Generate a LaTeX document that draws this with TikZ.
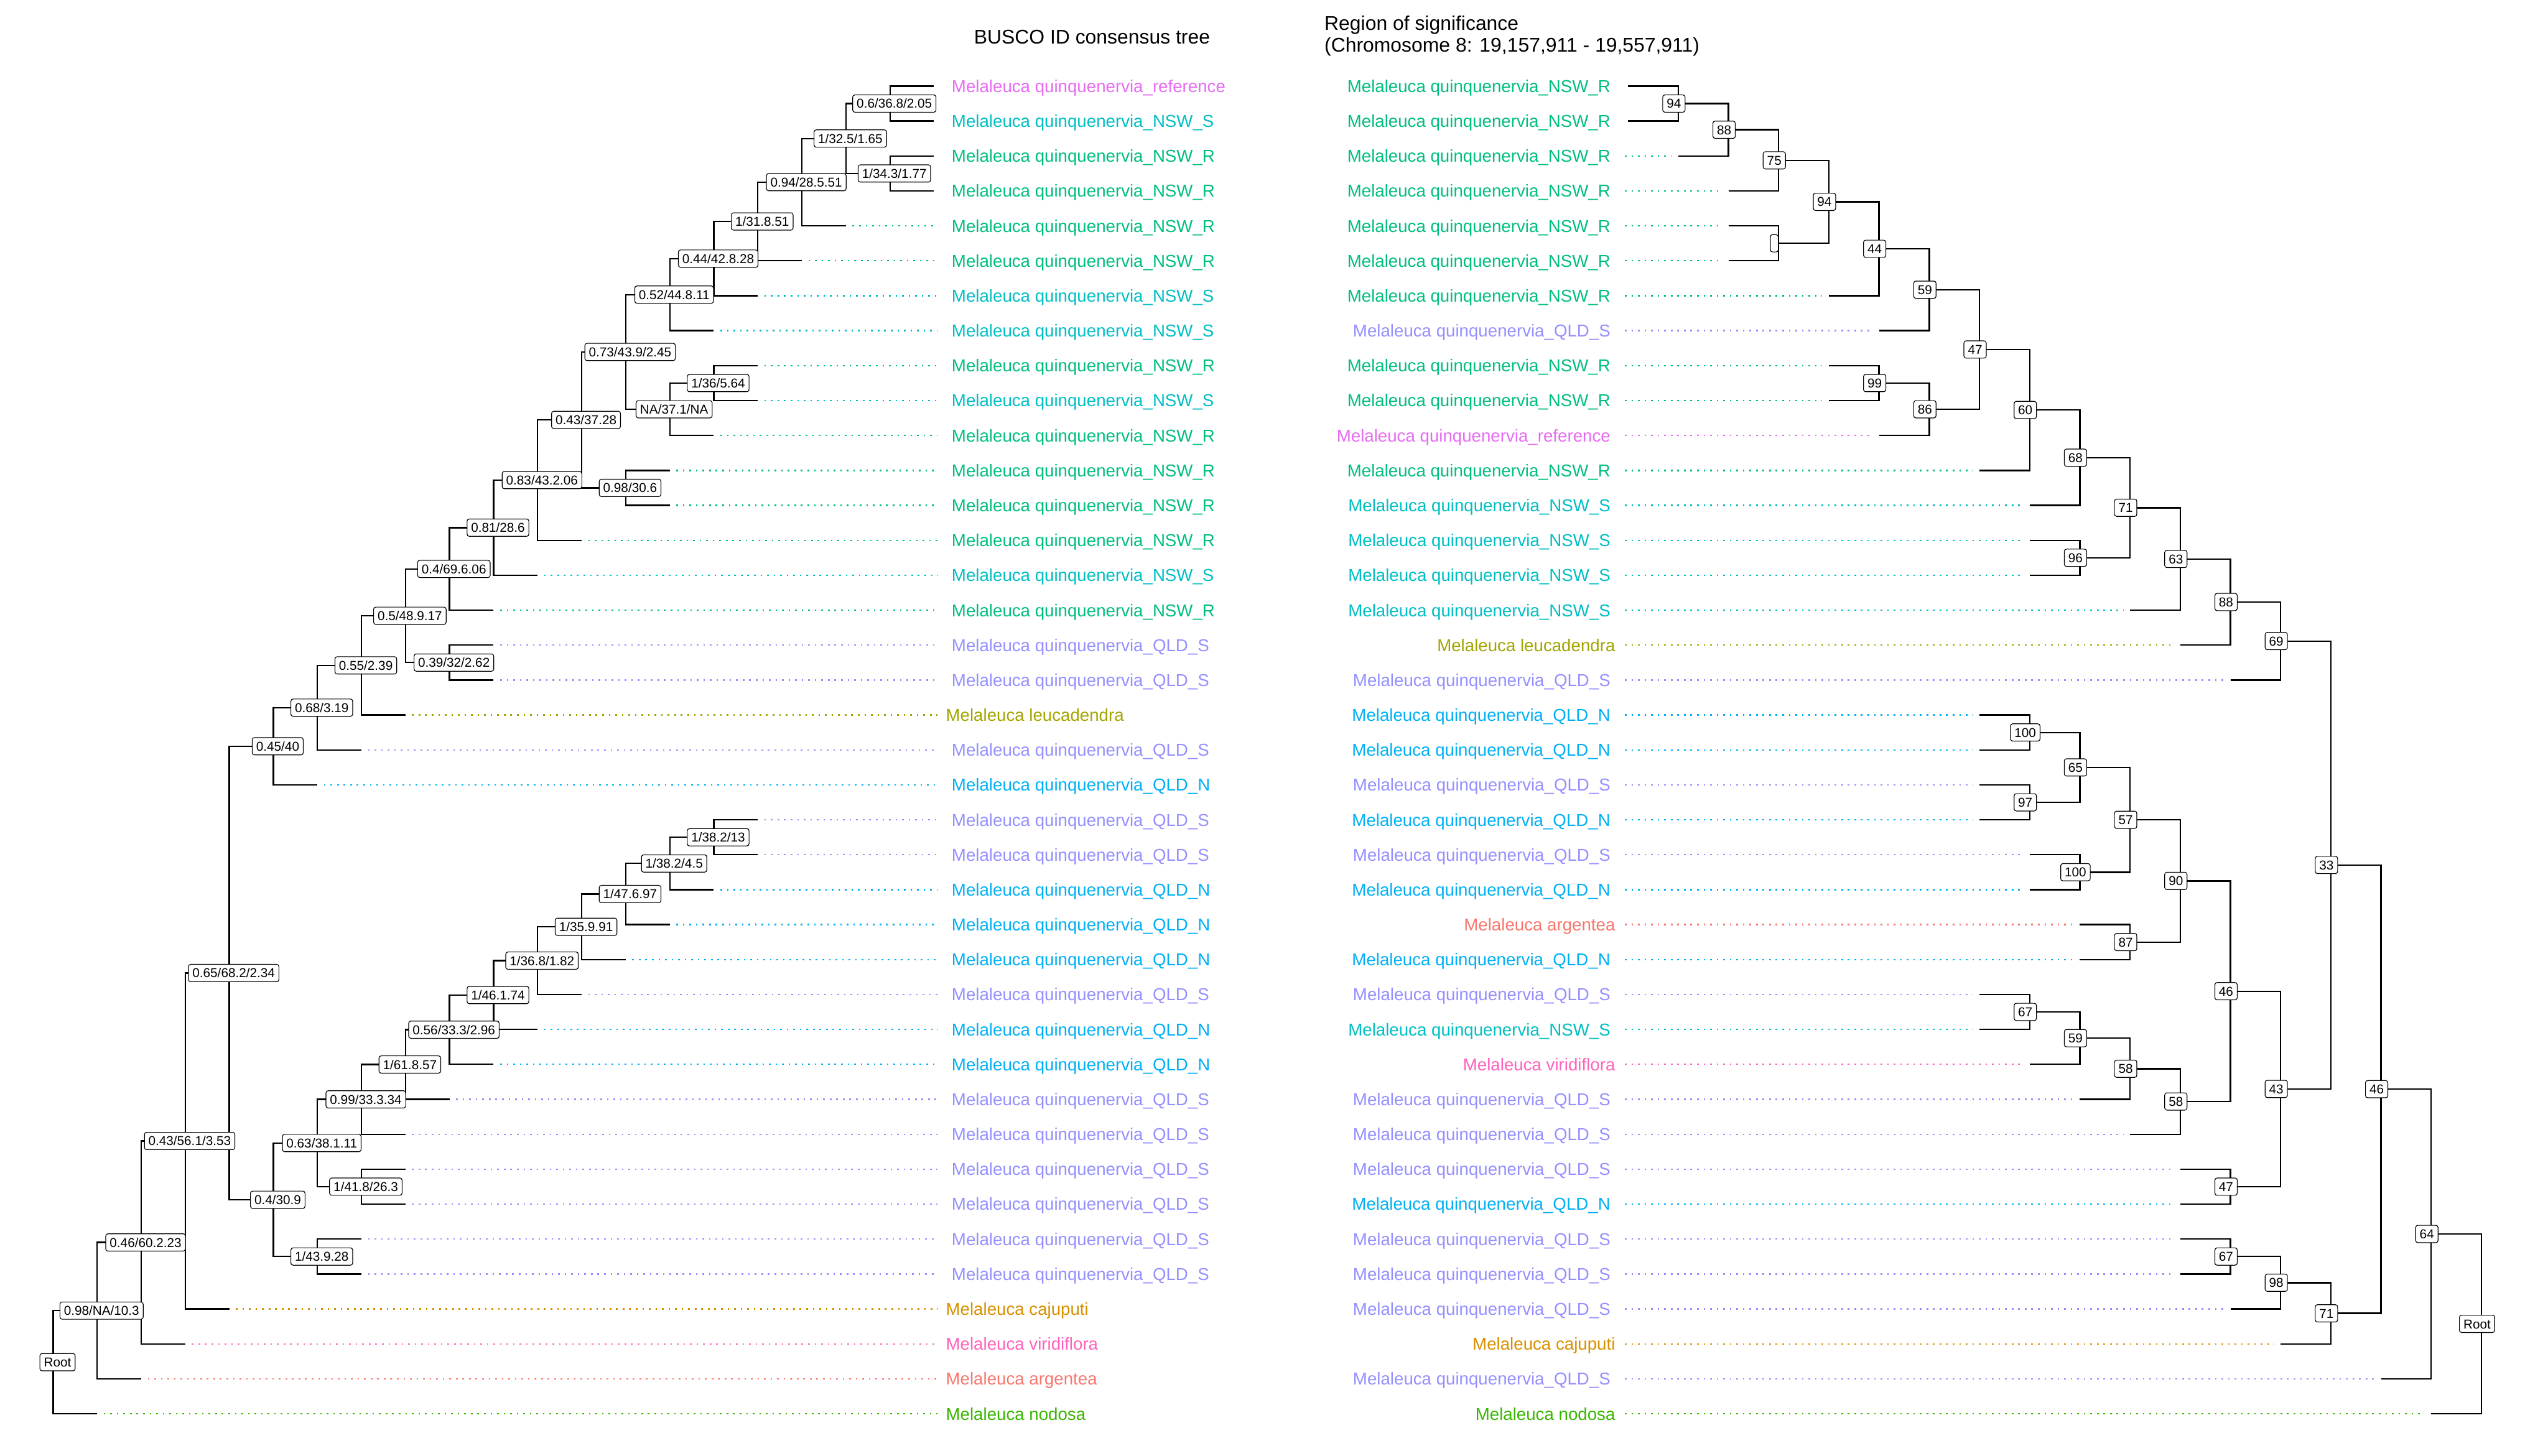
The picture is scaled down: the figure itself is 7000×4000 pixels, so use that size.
\documentclass[tikz,border=0pt]{standalone}
\usepackage{fontspec}
\setmainfont{Liberation Sans}
\definecolor{cArg}{HTML}{F8766D}
\definecolor{cCaj}{HTML}{D89000}
\definecolor{cLeu}{HTML}{A3A500}
\definecolor{cNod}{HTML}{39B600}
\definecolor{cNR}{HTML}{00BF7D}
\definecolor{cNS}{HTML}{00BFC4}
\definecolor{cQN}{HTML}{00B0F6}
\definecolor{cQS}{HTML}{9590FF}
\definecolor{cRef}{HTML}{E76BF3}
\definecolor{cVir}{HTML}{FF62BC}
\newcommand{\qNR}{quinquenervia\_NSW\_R}
\newcommand{\qNS}{quinquenervia\_NSW\_S}
\newcommand{\qQN}{quinquenervia\_QLD\_N}
\newcommand{\qQS}{quinquenervia\_QLD\_S}
\newcommand{\qRef}{quinquenervia\_reference}
\begin{document}
\begin{tikzpicture}[x=0.01cm, y=-0.01cm,
  branch/.style={line width=0.04cm, draw=black},
  dotline/.style={line width=0.04cm, dash pattern=on 0.045cm off 0.135cm},
  nlab/.style={draw=black, line width=0.02cm, fill=white, rounded corners=0.06cm,
    inner xsep=0.11cm, inner ysep=0.11cm, text height=0.255cm, text depth=0pt,
    font=\fontsize{10.07pt}{12pt}\selectfont},
  tipl/.style={inner sep=0pt, text height=0.34cm, text depth=0pt,
    font=\fontsize{13.45pt}{16pt}\selectfont, anchor=west},
  tipr/.style={inner sep=0pt, text height=0.34cm, text depth=0pt,
    font=\fontsize{13.45pt}{16pt}\selectfont, anchor=east},
  ttl/.style={font=\fontsize{15.5pt}{18pt}\selectfont, inner sep=0pt}
]
\fill[white] (0,0) rectangle (7000,4000);
\useasboundingbox (0,0) rectangle (7000,4000);

% titles
\node[ttl, anchor=base] (titleL) at (3000,120) {BUSCO ID consensus tree};
\node[ttl, anchor=base west] (titleR1) at (3638,83) {Region of significance};
\node[ttl, anchor=base west] (titleR2) at (3638,142) {(Chromosome 8: 19,157,911 - 19,557,911)};

\coordinate (dotL) at (2576,0);
\coordinate (dotR) at (4464,0);

% ---------------- LEFT TREE ----------------
\coordinate (Lt0) at (2566,236.6);
\coordinate (Lt1) at (2566,332.6);
\coordinate (Lt2) at (2566,428.6);
\coordinate (Lt3) at (2566,524.6);
\coordinate (Lt4) at (2324,620.6);
\coordinate (Lt5) at (2203,716.6);
\coordinate (Lt6) at (2082,812.6);
\coordinate (Lt7) at (1961,908.6);
\coordinate (Lt8) at (2082,1004.6);
\coordinate (Lt9) at (2082,1100.6);
\coordinate (Lt10) at (1961,1196.6);
\coordinate (Lt11) at (1840,1292.6);
\coordinate (Lt12) at (1840,1388.6);
\coordinate (Lt13) at (1598,1484.6);
\coordinate (Lt14) at (1477,1580.6);
\coordinate (Lt15) at (1356,1676.6);
\coordinate (Lt16) at (1356,1772.6);
\coordinate (Lt17) at (1356,1868.6);
\coordinate (Lt18) at (1114,1964.6);
\coordinate (Lt19) at (993,2060.6);
\coordinate (Lt20) at (872,2156.6);
\coordinate (Lt21) at (2082,2252.6);
\coordinate (Lt22) at (2082,2348.6);
\coordinate (Lt23) at (1961,2444.6);
\coordinate (Lt24) at (1840,2540.6);
\coordinate (Lt25) at (1719,2636.6);
\coordinate (Lt26) at (1598,2732.6);
\coordinate (Lt27) at (1477,2828.6);
\coordinate (Lt28) at (1356,2924.6);
\coordinate (Lt29) at (1235,3020.6);
\coordinate (Lt30) at (1114,3116.6);
\coordinate (Lt31) at (1114,3212.6);
\coordinate (Lt32) at (1114,3308.6);
\coordinate (Lt33) at (993,3404.6);
\coordinate (Lt34) at (993,3500.6);
\coordinate (Lt35) at (630,3596.6);
\coordinate (Lt36) at (509,3692.6);
\coordinate (Lt37) at (388,3788.6);
\coordinate (Lt38) at (267,3884.6);

\coordinate (LA) at (2445,284.6);
\coordinate (LD) at (2445,476.6);
\coordinate (LB) at (2324,380.6);
\coordinate (LC) at (2203,500.6);
\coordinate (LE) at (2082,608.6);
\coordinate (LF) at (1961,710.6);
\coordinate (LG) at (1840,809.6);
\coordinate (LN) at (1961,1052.6);
\coordinate (LL) at (1840,1124.6);
\coordinate (LK) at (1719,967.1);
\coordinate (LQ) at (1719,1340.6);
\coordinate (LM) at (1598,1153.85);
\coordinate (LR) at (1477,1319.2);
\coordinate (LS) at (1356,1449.9);
\coordinate (LT) at (1235,1563.25);
\coordinate (LU) at (1235,1820.6);
\coordinate (LV) at (1114,1691.9);
\coordinate (LW) at (993,1828.25);
\coordinate (LX) at (872,1944.4);
\coordinate (LY) at (751,2050.5);
\coordinate (Ln1) at (1961,2300.6);
\coordinate (Ln2) at (1840,2372.6);
\coordinate (Ln3) at (1719,2456.6);
\coordinate (Ln4) at (1598,2546.6);
\coordinate (Ln5) at (1477,2639.6);
\coordinate (Ln6) at (1356,2734.1);
\coordinate (Ln7) at (1235,2829.35);
\coordinate (Ln8) at (1114,2925);
\coordinate (Ln9) at (993,3020.8);
\coordinate (LAE) at (993,3260.6);
\coordinate (LAB) at (872,3140.7);
\coordinate (LAC) at (872,3452.6);
\coordinate (LAA) at (751,3296.65);
\coordinate (LZ4) at (630,2673.6);
\coordinate (LZ3) at (509,3135.1);
\coordinate (LZ2) at (388,3413.85);
\coordinate (LZ1) at (267,3601.2);
\coordinate (LRoot) at (146,3742.9);

\foreach \p/\c in {LA/Lt0,LA/Lt1,LD/Lt2,LD/Lt3,LB/LA,LB/LD,LC/LB,LC/Lt4,LE/LC,LE/Lt5,
  LF/LE,LF/Lt6,LG/LF,LG/Lt7,LN/Lt8,LN/Lt9,LL/LN,LL/Lt10,LK/LG,LK/LL,LQ/Lt11,LQ/Lt12,
  LM/LK,LM/LQ,LR/LM,LR/Lt13,LS/LR,LS/Lt14,LT/LS,LT/Lt15,LU/Lt16,LU/Lt17,LV/LT,LV/LU,
  LW/LV,LW/Lt18,LX/LW,LX/Lt19,LY/LX,LY/Lt20,Ln1/Lt21,Ln1/Lt22,Ln2/Ln1,Ln2/Lt23,
  Ln3/Ln2,Ln3/Lt24,Ln4/Ln3,Ln4/Lt25,Ln5/Ln4,Ln5/Lt26,Ln6/Ln5,Ln6/Lt27,Ln7/Ln6,Ln7/Lt28,
  Ln8/Ln7,Ln8/Lt29,Ln9/Ln8,Ln9/Lt30,LAE/Lt31,LAE/Lt32,LAB/Ln9,LAB/LAE,LAC/Lt33,LAC/Lt34,
  LAA/LAB,LAA/LAC,LZ4/LY,LZ4/LAA,LZ3/LZ4,LZ3/Lt35,LZ2/LZ3,LZ2/Lt36,LZ1/LZ2,LZ1/Lt37,
  LRoot/LZ1,LRoot/Lt38}
  \draw[branch] (\c) -| (\p);

\foreach \i/\c in {4/cNR,5/cNR,6/cNS,7/cNS,8/cNR,9/cNS,10/cNR,11/cNR,12/cNR,13/cNR,
  14/cNS,15/cNR,16/cQS,17/cQS,18/cLeu,19/cQS,20/cQN,21/cQS,22/cQS,23/cQN,24/cQN,25/cQN,
  26/cQS,27/cQN,28/cQN,29/cQS,30/cQS,31/cQS,32/cQS,33/cQS,34/cQS,35/cCaj,36/cVir,
  37/cArg,38/cNod}
  \draw[dotline, draw=\c] ([xshift=0.18cm]Lt\i) -- (Lt\i -| dotL);

\foreach \i/\c/\t/\x in {0/cRef/\qRef/2614,1/cNS/\qNS/2614,2/cNR/\qNR/2614,3/cNR/\qNR/2614,
  4/cNR/\qNR/2614,5/cNR/\qNR/2614,6/cNS/\qNS/2614,7/cNS/\qNS/2614,8/cNR/\qNR/2614,
  9/cNS/\qNS/2614,10/cNR/\qNR/2614,11/cNR/\qNR/2614,12/cNR/\qNR/2614,13/cNR/\qNR/2614,
  14/cNS/\qNS/2614,15/cNR/\qNR/2614,16/cQS/\qQS/2614,17/cQS/\qQS/2614,
  18/cLeu/leucadendra/2598,19/cQS/\qQS/2614,20/cQN/\qQN/2614,21/cQS/\qQS/2614,
  22/cQS/\qQS/2614,23/cQN/\qQN/2614,24/cQN/\qQN/2614,25/cQN/\qQN/2614,26/cQS/\qQS/2614,
  27/cQN/\qQN/2614,28/cQN/\qQN/2614,29/cQS/\qQS/2614,30/cQS/\qQS/2614,31/cQS/\qQS/2614,
  32/cQS/\qQS/2614,33/cQS/\qQS/2614,34/cQS/\qQS/2614,35/cCaj/cajuputi/2598,
  36/cVir/viridiflora/2598,37/cArg/argentea/2598,38/cNod/nodosa/2598}
  \node[tipl, text=\c] (Ll\i) at (\x,{236.6+96*\i}) {Melaleuca \t};

\node[nlab] (LAl) at ([xshift=0.12cm]LA) {0.6/36.8/2.05};
\node[nlab] (LDl) at ([xshift=0.12cm]LD) {1/34.3/1.77};
\node[nlab] (LBl) at ([xshift=0.12cm]LB) {1/32.5/1.65};
\node[nlab] (LCl) at ([xshift=0.12cm]LC) {0.94/28.5.51};
\node[nlab] (LEl) at ([xshift=0.12cm]LE) {1/31.8.51};
\node[nlab] (LFl) at ([xshift=0.12cm]LF) {0.44/42.8.28};
\node[nlab] (LGl) at ([xshift=0.12cm]LG) {0.52/44.8.11};
\node[nlab] (LNl) at ([xshift=0.12cm]LN) {1/36/5.64};
\node[nlab] (LLl) at ([xshift=0.12cm]LL) {NA/37.1/NA};
\node[nlab] (LKl) at ([xshift=0.12cm]LK) {0.73/43.9/2.45};
\node[nlab] (LQl) at ([xshift=0.12cm]LQ) {0.98/30.6};
\node[nlab] (LMl) at ([xshift=0.12cm]LM) {0.43/37.28};
\node[nlab] (LRl) at ([xshift=0.12cm]LR) {0.83/43.2.06};
\node[nlab] (LSl) at ([xshift=0.12cm]LS) {0.81/28.6};
\node[nlab] (LTl) at ([xshift=0.12cm]LT) {0.4/69.6.06};
\node[nlab] (LUl) at ([xshift=0.12cm]LU) {0.39/32/2.62};
\node[nlab] (LVl) at ([xshift=0.12cm]LV) {0.5/48.9.17};
\node[nlab] (LWl) at ([xshift=0.12cm]LW) {0.55/2.39};
\node[nlab] (LXl) at ([xshift=0.12cm]LX) {0.68/3.19};
\node[nlab] (LYl) at ([xshift=0.12cm]LY) {0.45/40};
\node[nlab] (Ln1l) at ([xshift=0.12cm]Ln1) {1/38.2/13};
\node[nlab] (Ln2l) at ([xshift=0.12cm]Ln2) {1/38.2/4.5};
\node[nlab] (Ln3l) at ([xshift=0.12cm]Ln3) {1/47.6.97};
\node[nlab] (Ln4l) at ([xshift=0.12cm]Ln4) {1/35.9.91};
\node[nlab] (Ln5l) at ([xshift=0.12cm]Ln5) {1/36.8/1.82};
\node[nlab] (Ln6l) at ([xshift=0.12cm]Ln6) {1/46.1.74};
\node[nlab] (Ln7l) at ([xshift=0.12cm]Ln7) {0.56/33.3/2.96};
\node[nlab] (Ln8l) at ([xshift=0.12cm]Ln8) {1/61.8.57};
\node[nlab] (Ln9l) at ([xshift=0.12cm]Ln9) {0.99/33.3.34};
\node[nlab] (LAEl) at ([xshift=0.12cm]LAE) {1/41.8/26.3};
\node[nlab] (LABl) at ([xshift=0.12cm]LAB) {0.63/38.1.11};
\node[nlab] (LACl) at ([xshift=0.12cm]LAC) {1/43.9.28};
\node[nlab] (LAAl) at ([xshift=0.12cm]LAA) {0.4/30.9};
\node[nlab] (LZ4l) at ([xshift=0.12cm]LZ4) {0.65/68.2/2.34};
\node[nlab] (LZ3l) at ([xshift=0.12cm]LZ3) {0.43/56.1/3.53};
\node[nlab] (LZ2l) at ([xshift=0.12cm]LZ2) {0.46/60.2.23};
\node[nlab] (LZ1l) at ([xshift=0.12cm]LZ1) {0.98/NA/10.3};
\node[nlab] (LRootl) at ([xshift=0.12cm]LRoot) {Root};

% ---------------- RIGHT TREE ----------------
\coordinate (Rt0) at (4472.7,236.6);
\coordinate (Rt1) at (4472.7,332.6);
\coordinate (Rt2) at (4610.6,428.6);
\coordinate (Rt3) at (4748.5,524.6);
\coordinate (Rt4) at (4748.5,620.6);
\coordinate (Rt5) at (4748.5,716.6);
\coordinate (Rt6) at (5024.3,812.6);
\coordinate (Rt7) at (5162.2,908.6);
\coordinate (Rt8) at (5024.3,1004.6);
\coordinate (Rt9) at (5024.3,1100.6);
\coordinate (Rt10) at (5162.2,1196.6);
\coordinate (Rt11) at (5438,1292.6);
\coordinate (Rt12) at (5575.9,1388.6);
\coordinate (Rt13) at (5575.9,1484.6);
\coordinate (Rt14) at (5575.9,1580.6);
\coordinate (Rt15) at (5851.7,1676.6);
\coordinate (Rt16) at (5989.6,1772.6);
\coordinate (Rt17) at (6127.5,1868.6);
\coordinate (Rt18) at (5438,1964.6);
\coordinate (Rt19) at (5438,2060.6);
\coordinate (Rt20) at (5438,2156.6);
\coordinate (Rt21) at (5438,2252.6);
\coordinate (Rt22) at (5575.9,2348.6);
\coordinate (Rt23) at (5575.9,2444.6);
\coordinate (Rt24) at (5713.8,2540.6);
\coordinate (Rt25) at (5713.8,2636.6);
\coordinate (Rt26) at (5438,2732.6);
\coordinate (Rt27) at (5438,2828.6);
\coordinate (Rt28) at (5575.9,2924.6);
\coordinate (Rt29) at (5713.8,3020.6);
\coordinate (Rt30) at (5851.7,3116.6);
\coordinate (Rt31) at (5989.6,3212.6);
\coordinate (Rt32) at (5989.6,3308.6);
\coordinate (Rt33) at (5989.6,3404.6);
\coordinate (Rt34) at (5989.6,3500.6);
\coordinate (Rt35) at (6127.5,3596.6);
\coordinate (Rt36) at (6265.4,3692.6);
\coordinate (Rt37) at (6541.2,3788.6);
\coordinate (Rt38) at (6679.1,3884.6);

\coordinate (R94a) at (4610.6,284.6);
\coordinate (R88a) at (4748.5,356.6);
\coordinate (R75) at (4886.4,440.6);
\coordinate (Rbl) at (4886.4,668.6);
\coordinate (R94b) at (5024.3,554.6);
\coordinate (R44) at (5162.2,683.6);
\coordinate (R59a) at (5300.1,796.1);
\coordinate (R99) at (5162.2,1052.6);
\coordinate (R86) at (5300.1,1124.6);
\coordinate (R47a) at (5438,960.35);
\coordinate (R60) at (5575.9,1126.5);
\coordinate (R68) at (5713.8,1257.55);
\coordinate (R96) at (5713.8,1532.6);
\coordinate (R71a) at (5851.7,1395.1);
\coordinate (R63) at (5989.6,1535.85);
\coordinate (R88b) at (6127.5,1654.2);
\coordinate (R69) at (6265.4,1761.4);
\coordinate (R100a) at (5575.9,2012.6);
\coordinate (R97) at (5575.9,2204.6);
\coordinate (R65) at (5713.8,2108.6);
\coordinate (R100b) at (5713.8,2396.6);
\coordinate (R57) at (5851.7,2252.6);
\coordinate (R87) at (5851.7,2588.6);
\coordinate (R90) at (5989.6,2420.6);
\coordinate (R67b) at (5575.9,2780.6);
\coordinate (R59b) at (5713.8,2852.6);
\coordinate (R58a) at (5851.7,2936.6);
\coordinate (R58b) at (5989.6,3026.6);
\coordinate (R46a) at (6127.5,2723.6);
\coordinate (R47b) at (6127.5,3260.6);
\coordinate (R43) at (6265.4,2992.1);
\coordinate (R33) at (6403.3,2376.75);
\coordinate (R67c) at (6127.5,3452.6);
\coordinate (R98) at (6265.4,3524.6);
\coordinate (R71b) at (6403.3,3608.6);
\coordinate (R46b) at (6541.2,2992.7);
\coordinate (R64) at (6679.1,3390.65);
\coordinate (RRoot) at (6817,3637.6);

\foreach \p/\c in {R94a/Rt0,R94a/Rt1,R88a/R94a,R88a/Rt2,R75/R88a,R75/Rt3,Rbl/Rt4,Rbl/Rt5,
  R94b/R75,R94b/Rbl,R44/R94b,R44/Rt6,R59a/R44,R59a/Rt7,R99/Rt8,R99/Rt9,R86/R99,R86/Rt10,
  R47a/R59a,R47a/R86,R60/R47a,R60/Rt11,R68/R60,R68/Rt12,R96/Rt13,R96/Rt14,R71a/R68,R71a/R96,
  R63/R71a,R63/Rt15,R88b/R63,R88b/Rt16,R69/R88b,R69/Rt17,R100a/Rt18,R100a/Rt19,R97/Rt20,
  R97/Rt21,R65/R100a,R65/R97,R100b/Rt22,R100b/Rt23,R57/R65,R57/R100b,R87/Rt24,R87/Rt25,
  R90/R57,R90/R87,R67b/Rt26,R67b/Rt27,R59b/R67b,R59b/Rt28,R58a/R59b,R58a/Rt29,R58b/R58a,
  R58b/Rt30,R46a/R90,R46a/R58b,R47b/Rt31,R47b/Rt32,R43/R46a,R43/R47b,R33/R69,R33/R43,
  R67c/Rt33,R67c/Rt34,R98/R67c,R98/Rt35,R71b/R98,R71b/Rt36,R46b/R33,R46b/R71b,R64/R46b,
  R64/Rt37,RRoot/R64,RRoot/Rt38}
  \draw[branch] (\c) -| (\p);

\foreach \i/\c in {2/cNR,3/cNR,4/cNR,5/cNR,6/cNR,7/cQS,8/cNR,9/cNR,10/cRef,11/cNR,12/cNS,
  13/cNS,14/cNS,15/cNS,16/cLeu,17/cQS,18/cQN,19/cQN,20/cQS,21/cQN,22/cQS,23/cQN,24/cArg,
  25/cQN,26/cQS,27/cNS,28/cVir,29/cQS,30/cQS,31/cQS,32/cQN,33/cQS,34/cQS,35/cQS,36/cCaj,
  37/cQS,38/cNod}
  \draw[dotline, draw=\c] (Rt\i -| dotR) -- ([xshift=-0.18cm]Rt\i);

\foreach \i/\c/\t/\x in {0/cNR/\qNR/4425,1/cNR/\qNR/4425,2/cNR/\qNR/4425,3/cNR/\qNR/4425,
  4/cNR/\qNR/4425,5/cNR/\qNR/4425,6/cNR/\qNR/4425,7/cQS/\qQS/4425,8/cNR/\qNR/4425,
  9/cNR/\qNR/4425,10/cRef/\qRef/4425,11/cNR/\qNR/4425,12/cNS/\qNS/4425,13/cNS/\qNS/4425,
  14/cNS/\qNS/4425,15/cNS/\qNS/4425,16/cLeu/leucadendra/4438,17/cQS/\qQS/4425,
  18/cQN/\qQN/4425,19/cQN/\qQN/4425,20/cQS/\qQS/4425,21/cQN/\qQN/4425,22/cQS/\qQS/4425,
  23/cQN/\qQN/4425,24/cArg/argentea/4438,25/cQN/\qQN/4425,26/cQS/\qQS/4425,
  27/cNS/\qNS/4425,28/cVir/viridiflora/4438,29/cQS/\qQS/4425,30/cQS/\qQS/4425,
  31/cQS/\qQS/4425,32/cQN/\qQN/4425,33/cQS/\qQS/4425,34/cQS/\qQS/4425,35/cQS/\qQS/4425,
  36/cCaj/cajuputi/4438,37/cQS/\qQS/4425,38/cNod/nodosa/4438}
  \node[tipr, text=\c] (Rl\i) at (\x,{236.6+96*\i}) {Melaleuca \t};

\node[nlab] (R94al) at ([xshift=-0.12cm]R94a) {94};
\node[nlab] (R88al) at ([xshift=-0.12cm]R88a) {88};
\node[nlab] (R75l) at ([xshift=-0.12cm]R75) {75};
\node[nlab] (Rbll) at ([xshift=-0.12cm]Rbl) {};
\node[nlab] (R94bl) at ([xshift=-0.12cm]R94b) {94};
\node[nlab] (R44l) at ([xshift=-0.12cm]R44) {44};
\node[nlab] (R59al) at ([xshift=-0.12cm]R59a) {59};
\node[nlab] (R99l) at ([xshift=-0.12cm]R99) {99};
\node[nlab] (R86l) at ([xshift=-0.12cm]R86) {86};
\node[nlab] (R47al) at ([xshift=-0.12cm]R47a) {47};
\node[nlab] (R60l) at ([xshift=-0.12cm]R60) {60};
\node[nlab] (R68l) at ([xshift=-0.12cm]R68) {68};
\node[nlab] (R96l) at ([xshift=-0.12cm]R96) {96};
\node[nlab] (R71al) at ([xshift=-0.12cm]R71a) {71};
\node[nlab] (R63l) at ([xshift=-0.12cm]R63) {63};
\node[nlab] (R88bl) at ([xshift=-0.12cm]R88b) {88};
\node[nlab] (R69l) at ([xshift=-0.12cm]R69) {69};
\node[nlab] (R100al) at ([xshift=-0.12cm]R100a) {100};
\node[nlab] (R97l) at ([xshift=-0.12cm]R97) {97};
\node[nlab] (R65l) at ([xshift=-0.12cm]R65) {65};
\node[nlab] (R100bl) at ([xshift=-0.12cm]R100b) {100};
\node[nlab] (R57l) at ([xshift=-0.12cm]R57) {57};
\node[nlab] (R87l) at ([xshift=-0.12cm]R87) {87};
\node[nlab] (R90l) at ([xshift=-0.12cm]R90) {90};
\node[nlab] (R67bl) at ([xshift=-0.12cm]R67b) {67};
\node[nlab] (R59bl) at ([xshift=-0.12cm]R59b) {59};
\node[nlab] (R58al) at ([xshift=-0.12cm]R58a) {58};
\node[nlab] (R58bl) at ([xshift=-0.12cm]R58b) {58};
\node[nlab] (R46al) at ([xshift=-0.12cm]R46a) {46};
\node[nlab] (R47bl) at ([xshift=-0.12cm]R47b) {47};
\node[nlab] (R43l) at ([xshift=-0.12cm]R43) {43};
\node[nlab] (R33l) at ([xshift=-0.12cm]R33) {33};
\node[nlab] (R67cl) at ([xshift=-0.12cm]R67c) {67};
\node[nlab] (R98l) at ([xshift=-0.12cm]R98) {98};
\node[nlab] (R71bl) at ([xshift=-0.12cm]R71b) {71};
\node[nlab] (R46bl) at ([xshift=-0.12cm]R46b) {46};
\node[nlab] (R64l) at ([xshift=-0.12cm]R64) {64};
\node[nlab] (RRootl) at ([xshift=-0.12cm]RRoot) {Root};
\end{tikzpicture}
\end{document}
